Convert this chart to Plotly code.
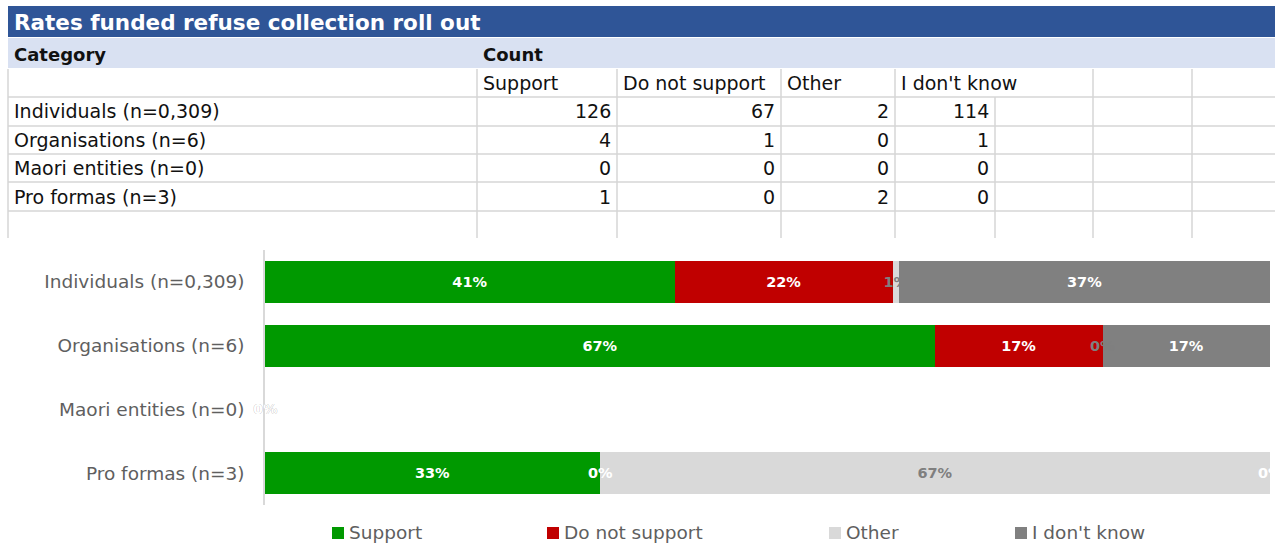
import plotly.graph_objects as go

# ---------------- data ----------------
title = "Rates funded refuse collection roll out"
col_headers = ["Category", "Count"]
categories = ["Individuals (n=0,309)", "Organisations (n=6)", "Maori entities (n=0)", "Pro formas (n=3)"]
series = ["Support", "Do not support", "Other", "I don't know"]
support = [126, 4, 0, 1]
do_not_support = [67, 1, 0, 0]
other = [2, 0, 0, 2]
dont_know = [114, 1, 0, 0]
counts = [support, do_not_support, other, dont_know]

colors = ["#009900", "#C00000", "#D9D9D9", "#808080"]
label_colors = ["#FFFFFF", "#FFFFFF", "#7F7F7F", "#FFFFFF"]

W, H = 1275, 545
def px(x):
    return x / W
def py(y):
    return 1 - y / H

TABLE_FONT = "DejaVu Sans"
CHART_FONT = "DejaVu Sans"

fig = go.Figure()

# ---------------- stacked 100% bars ----------------
totals = [sum(c[i] for c in counts) for i in range(len(categories))]
shares_all = []
for name, vals, col, lcol in zip(series, counts, colors, label_colors):
    shares = [v / t if t else 0 for v, t in zip(vals, totals)]
    shares_all.append(shares)
    labels = [f"{round(s * 100):.0f}%" for s in shares]
    fig.add_trace(go.Bar(
        x=shares, y=categories, orientation="h", name=name,
        marker=dict(color=col, line=dict(width=0)),
        text=labels, textposition="inside", insidetextanchor="middle",
        textangle=0, constraintext="none", cliponaxis=False,
        insidetextfont=dict(family=CHART_FONT, size=14.5, color=lcol, weight="bold"),
        showlegend=False, hoverinfo="skip",
    ))

fig.update_layout(
    barmode="stack", bargap=0.34,
    width=W, height=H, margin=dict(l=0, r=0, t=0, b=0),
    paper_bgcolor="white", plot_bgcolor="white",
    xaxis=dict(domain=[px(265), px(1270)], range=[0, 1], visible=False, fixedrange=True),
    yaxis=dict(domain=[py(505), py(250)], categoryorder="array", categoryarray=categories,
               autorange="reversed", showgrid=False, zeroline=False, fixedrange=True,
               showline=True, linecolor="#D9D9D9", linewidth=1.5,
               ticks="", ticklabelstandoff=15,
               tickfont=dict(family=CHART_FONT, size=18.5, color="#5F5F5F")),
)

shapes = []
annotations = []

# labels of empty (0%) segments, which the bars cannot carry themselves
for si, (shares, lcol) in enumerate(zip(shares_all, label_colors)):
    for ci, cat in enumerate(categories):
        if shares[ci] == 0:
            base = sum(shares_all[k][ci] for k in range(si))
            annotations.append(dict(x=base, y=cat, xref="x", yref="y", text="<b>0%</b>",
                                    showarrow=False, xanchor="center", yanchor="middle",
                                    font=dict(family=CHART_FONT, size=14.5, color=lcol)))

# ---------------- manual legend ----------------
leg_x = [332, 547, 829, 1015]
for name, col, lx in zip(series, colors, leg_x):
    shapes.append(dict(type="rect", xref="paper", yref="paper",
                       x0=px(lx), x1=px(lx + 12), y0=py(539), y1=py(527),
                       fillcolor=col, line=dict(width=0)))
    annotations.append(dict(x=px(lx + 15), y=py(532.5), xref="paper", yref="paper",
                            text=name, showarrow=False, xanchor="left", yanchor="middle",
                            font=dict(family=CHART_FONT, size=18.5, color="#5F5F5F")))

# ---------------- table ----------------
shapes.append(dict(type="rect", xref="paper", yref="paper", x0=px(8), x1=px(1275),
                   y0=py(37), y1=py(6), fillcolor="#2F5597", line=dict(width=0), layer="below"))
shapes.append(dict(type="rect", xref="paper", yref="paper", x0=px(8), x1=px(1275),
                   y0=py(68), y1=py(38), fillcolor="#D9E1F2", line=dict(width=0), layer="below"))

grid = "#D6D6D6"
for yy in [97, 126, 154, 182, 211]:
    shapes.append(dict(type="line", xref="paper", yref="paper", x0=px(8), x1=px(1275),
                       y0=py(yy), y1=py(yy), line=dict(color=grid, width=1.5)))
for xx, ytop in [(8, 69), (477, 69), (617, 69), (781, 69), (895, 69), (995, 97), (1093, 69), (1192, 69)]:
    shapes.append(dict(type="line", xref="paper", yref="paper", x0=px(xx), x1=px(xx),
                       y0=py(ytop), y1=py(238), line=dict(color=grid, width=1.5)))

annotations.append(dict(x=px(12), y=py(22), xref="paper", yref="paper", text=f"<b>{title}</b>",
                        showarrow=False, xanchor="left", yanchor="middle",
                        font=dict(family=TABLE_FONT, size=21.5, color="white")))
for txt, xx in zip(col_headers, [12, 481]):
    annotations.append(dict(x=px(xx), y=py(54), xref="paper", yref="paper", text=f"<b>{txt}</b>",
                            showarrow=False, xanchor="left", yanchor="middle",
                            font=dict(family=TABLE_FONT, size=18, color="#111111")))

col_left = [477, 617, 781, 895]
col_right = [617, 781, 895, 995]
for name, xl in zip(series, col_left):
    annotations.append(dict(x=px(xl + 4), y=py(83), xref="paper", yref="paper", text=name,
                            showarrow=False, xanchor="left", yanchor="middle",
                            font=dict(family=TABLE_FONT, size=19, color="#111111")))

row_y = [111, 140, 168, 197]
for i, (cat, ry) in enumerate(zip(categories, row_y)):
    annotations.append(dict(x=px(12), y=py(ry), xref="paper", yref="paper", text=cat,
                            showarrow=False, xanchor="left", yanchor="middle",
                            font=dict(family=TABLE_FONT, size=19, color="#111111")))
    for vals, xr in zip(counts, col_right):
        annotations.append(dict(x=px(xr - 4), y=py(ry), xref="paper", yref="paper", text=str(vals[i]),
                                showarrow=False, xanchor="right", yanchor="middle",
                                font=dict(family=TABLE_FONT, size=19, color="#111111")))

fig.update_layout(shapes=shapes, annotations=annotations)
fig.write_html("out.html", config={"displayModeBar": False},
               post_script="document.body.style.margin='0';")
